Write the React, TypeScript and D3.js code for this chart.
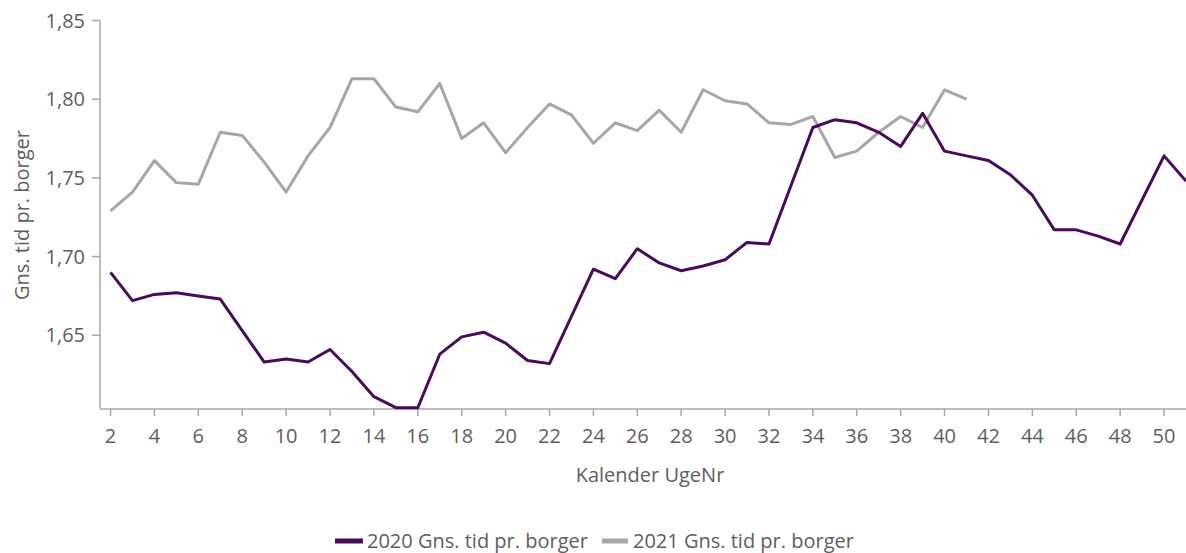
import React from 'react';
import * as d3 from 'd3';

// Weeks 2..51
const weeks2020 = d3.range(2, 52);
const values2020 = [
  1.690, 1.672, 1.676, 1.677, 1.675, 1.673, 1.653, 1.633, 1.635, 1.633,
  1.641, 1.627, 1.611, 1.604, 1.604, 1.638, 1.649, 1.652, 1.645, 1.634,
  1.632, 1.662, 1.692, 1.686, 1.705, 1.696, 1.691, 1.694, 1.698, 1.709,
  1.708, 1.745, 1.782, 1.787, 1.785, 1.779, 1.770, 1.791, 1.767, 1.764,
  1.761, 1.752, 1.739, 1.717, 1.717, 1.713, 1.708, 1.736, 1.764, 1.748,
];

// Weeks 2..41
const weeks2021 = d3.range(2, 42);
const values2021 = [
  1.729, 1.741, 1.761, 1.747, 1.746, 1.779, 1.777, 1.760, 1.741, 1.764,
  1.782, 1.813, 1.813, 1.795, 1.792, 1.810, 1.775, 1.785, 1.766, 1.782,
  1.797, 1.790, 1.772, 1.785, 1.780, 1.793, 1.779, 1.806, 1.799, 1.797,
  1.785, 1.784, 1.789, 1.763, 1.767, 1.779, 1.789, 1.782, 1.806, 1.800,
];

const yTicks = [1.65, 1.7, 1.75, 1.8, 1.85];
const xTicks = d3.range(2, 52, 2);

const seriesNames = ['2020 Gns. tid pr. borger', '2021 Gns. tid pr. borger'];
const seriesColors = ['#4a0a5c', '#a6a6a6'];

const W = 1186;
const H = 553;
const font = '"Open Sans", "Noto Sans", sans-serif';
const textColor = '#605e5c';
const axisColor = '#a6a6a6';
const fs = 20;

export default function App() {
  const x = d3.scaleLinear().domain([1.52, 51]).range([100, 1186]);
  const y = d3.scaleLinear().domain([1.6035, 1.85]).range([408.5, 20.5]);

  const line = d3
    .line<[number, number]>()
    .x((d) => x(d[0]))
    .y((d) => y(d[1]));

  const data2020 = weeks2020.map((w, i) => [w, values2020[i]] as [number, number]);
  const data2021 = weeks2021.map((w, i) => [w, values2021[i]] as [number, number]);

  const fmt = (v: number) => v.toFixed(2).replace('.', ',');

  return (
    <svg
      width={W}
      height={H}
      style={{ position: 'absolute', left: 0, top: 0, background: '#fff' }}
      fontFamily={font}
    >
      {/* y axis */}
      <line x1={100} x2={100} y1={y(1.85)} y2={y.range()[0]} stroke={axisColor} strokeWidth={1.5} />
      {yTicks.map((t) => (
        <g key={t} transform={`translate(0,${y(t)})`}>
          <line x1={92} x2={100} stroke={axisColor} strokeWidth={1.5} />
          <text x={85} dy="0.35em" textAnchor="end" fontSize={fs} fill={textColor}>
            {fmt(t)}
          </text>
        </g>
      ))}
      <text
        transform={`translate(29,215) rotate(-90)`}
        textAnchor="middle"
        fontSize={fs}
        fill={textColor}
      >
        Gns. tid pr. borger
      </text>

      {/* x axis */}
      <line x1={100} x2={W} y1={409} y2={409} stroke={axisColor} strokeWidth={1.5} />
      {xTicks.map((t) => (
        <g key={t} transform={`translate(${x(t)},409)`}>
          <line y1={0} y2={7} stroke={axisColor} strokeWidth={1.5} />
          <text y={34} textAnchor="middle" fontSize={fs} fill={textColor}>
            {t}
          </text>
        </g>
      ))}
      <text x={650} y={482} textAnchor="middle" fontSize={fs} fill={textColor}>
        Kalender UgeNr
      </text>

      {/* lines */}
      <path d={line(data2021) ?? ''} fill="none" stroke={seriesColors[1]} strokeWidth={3} strokeLinejoin="round" />
      <path d={line(data2020) ?? ''} fill="none" stroke={seriesColors[0]} strokeWidth={3} strokeLinejoin="round" />

      {/* legend */}
      <g transform="translate(335,541)">
        <rect x={0} y={-2.5} width={28} height={5} fill={seriesColors[0]} />
        <text x={32} dy="0.35em" fontSize={fs} fill={textColor}>
          {seriesNames[0]}
        </text>
        <rect x={267} y={-2.5} width={26} height={5} fill={seriesColors[1]} />
        <text x={298} dy="0.35em" fontSize={fs} fill={textColor}>
          {seriesNames[1]}
        </text>
      </g>
    </svg>
  );
}
